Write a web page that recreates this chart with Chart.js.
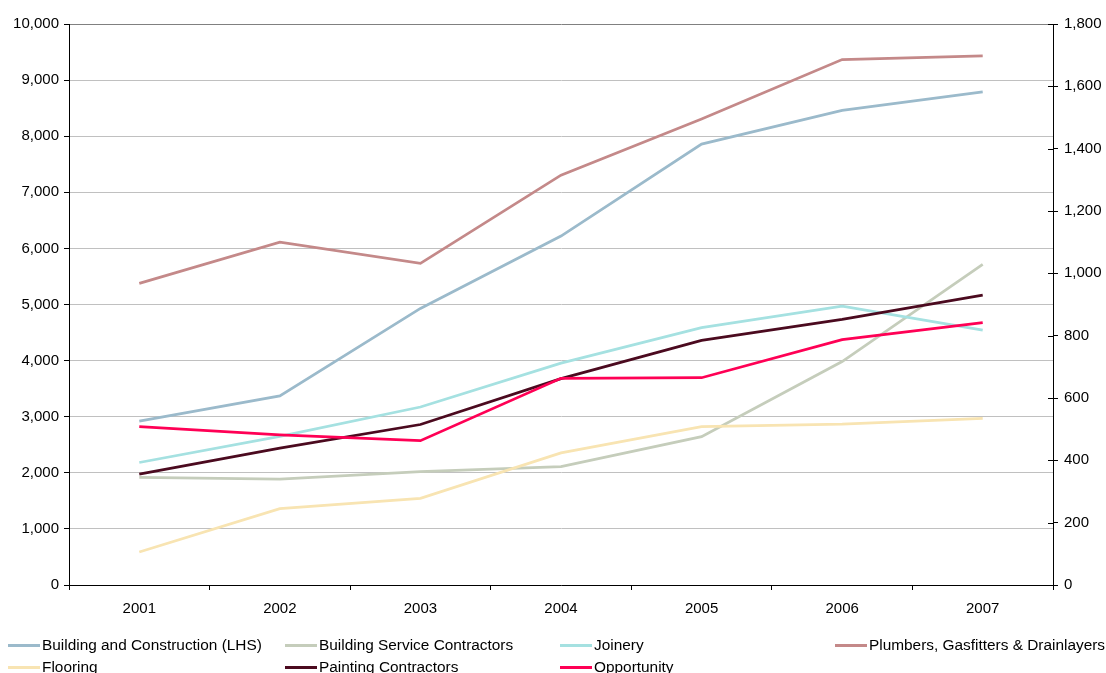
<!DOCTYPE html>
<html>
<head>
<meta charset="utf-8">
<script src="https://cdn.jsdelivr.net/npm/chart.js@4"></script>
<style>
  body { margin: 0; background: #fff; }
  #wrap { position: relative; width: 1106px; height: 673px; overflow: hidden; }
  #legend { position: absolute; left: 0; top: 0; width: 1106px; height: 673px; pointer-events: none; }
  .item { position: absolute; display: flex; align-items: center; font: 15.4px "Liberation Sans", Arial, sans-serif; color: #000; white-space: nowrap; }
  .swatch { display: inline-block; width: 32px; height: 0; border-top: 3px solid; margin-right: 2px; }
</style>
</head>
<body>
<div id="wrap">
  <canvas id="main-graph" width="1106" height="673"></canvas>
  <div id="legend"></div>
</div>
<script>
const years = ["2001", "2002", "2003", "2004", "2005", "2006", "2007"];

// left axis (LHS)
const buildingConstruction = [2920, 3370, 4930, 6220, 7860, 8460, 8790];
// right axis
const buildingService = [345, 340, 364, 380, 476, 717, 1029];
const joinery = [393, 477, 571, 712, 826, 895, 818];
const plumbers = [968, 1100, 1032, 1315, 1495, 1686, 1698];
const flooring = [106, 245, 278, 424, 508, 516, 535];
const painting = [356, 439, 515, 662, 785, 852, 930];
const opportunity = [508, 482, 463, 663, 665, 787, 842];

const leftTicks = { min: 0, max: 10000, step: 1000 };
const rightTicks = { min: 0, max: 1800, step: 200 };

const series = [
  { label: "Building and Construction (LHS)", data: buildingConstruction, color: "#9bbacb", axis: "y" },
  { label: "Building Service Contractors", data: buildingService, color: "#c5cdbb", axis: "y1" },
  { label: "Joinery", data: joinery, color: "#a5e1e1", axis: "y1" },
  { label: "Plumbers, Gasfitters & Drainlayers", data: plumbers, color: "#c48989", axis: "y1" },
  { label: "Flooring", data: flooring, color: "#f8e4b2", axis: "y1" },
  { label: "Painting Contractors", data: painting, color: "#4b0a1f", axis: "y1" },
  { label: "Opportunity", data: opportunity, color: "#ff0055", axis: "y1" },
];

const FONT = { family: "'Liberation Sans', Arial, sans-serif", size: 15 };
const fmt = (v) => Number(v).toLocaleString("en-US");

// small inward stubs on the right axis ticks
const rightStubs = {
  id: "rightStubs",
  afterDraw(chart) {
    const s = chart.scales.y1;
    const c = chart.ctx;
    c.save();
    c.strokeStyle = "#000";
    c.lineWidth = 1;
    s.ticks.forEach((t) => {
      const py = Math.round(s.getPixelForValue(t.value)) + 0.5;
      c.beginPath();
      c.moveTo(s.left - 5, py);
      c.lineTo(s.left, py);
      c.stroke();
    });
    c.restore();
  }
};

const chart = new Chart(document.getElementById("main-graph"), {
  type: "line",
  data: {
    labels: years,
    datasets: series.map((s, i) => ({
      label: s.label,
      data: s.data,
      yAxisID: s.axis,
      borderColor: s.color,
      backgroundColor: s.color,
      borderWidth: 2.75,
      pointRadius: 0,
      tension: 0,
      fill: false,
      order: series.length - i,
    })),
  },
  options: {
    responsive: false,
    animation: false,
    layout: { padding: { top: 24, left: 0, right: 0, bottom: 58 } },
    plugins: { legend: { display: false }, tooltip: { enabled: false } },
    scales: {
      x: {
        offset: true,
        afterFit: (scale) => { scale.height = 30; },
        grid: { offset: true, drawOnChartArea: false, tickLength: 5, color: "#000" },
        border: { color: "#000", width: 1 },
        ticks: { color: "#000", font: FONT, padding: 10, maxRotation: 0 },
      },
      y: {
        position: "left",
        min: leftTicks.min, max: leftTicks.max,
        afterFit: (scale) => { scale.width = 69; },
        grid: {
          tickLength: 5,
          color: (ctx) => ctx.tick && ctx.tick.value === leftTicks.max ? "#808080" : "#c0c0c0",
          tickColor: "#000",
        },
        border: { color: "#000", width: 1 },
        ticks: { stepSize: leftTicks.step, color: "#000", font: FONT, padding: 5, callback: fmt },
      },
      y1: {
        position: "right",
        min: rightTicks.min, max: rightTicks.max,
        afterFit: (scale) => { scale.width = 53; },
        grid: { drawOnChartArea: false, tickLength: 5, color: "#000" },
        border: { color: "#000", width: 1 },
        ticks: { stepSize: rightTicks.step, color: "#000", font: FONT, padding: 6, callback: fmt },
      },
    },
  },
  plugins: [rightStubs],
});

// legend laid out in two rows of four columns
const legendCols = [8, 285, 560, 835];
const legendRows = [636, 658];
const legendBox = document.getElementById("legend");
chart.data.datasets.forEach((ds, i) => {
  const item = document.createElement("div");
  item.className = "item";
  item.style.left = legendCols[i % 4] + "px";
  item.style.top = legendRows[Math.floor(i / 4)] + "px";
  item.innerHTML = `<span class="swatch" style="border-color:${ds.borderColor}"></span><span></span>`;
  item.lastChild.textContent = ds.label;
  legendBox.appendChild(item);
});
</script>
</body>
</html>
